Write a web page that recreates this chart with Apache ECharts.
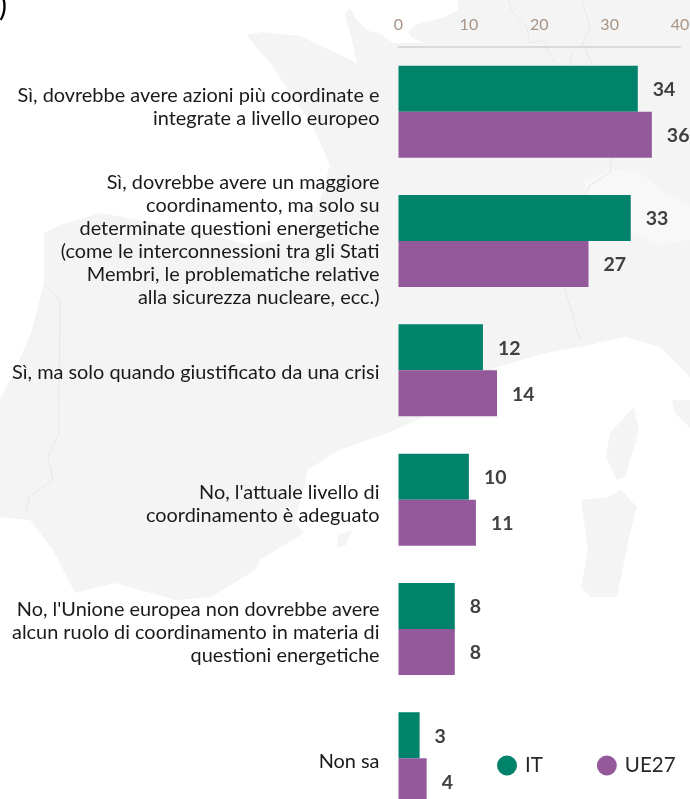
<!DOCTYPE html>
<html>
<head>
<meta charset="utf-8">
<title>Coordinamento energetico</title>
<script src="https://cdn.jsdelivr.net/npm/echarts@6/dist/echarts.min.js"></script>
<style>
html,body{margin:0;padding:0;background:#fff;}
#main{width:690px;height:799px;}
</style>
</head>
<body>
<div id="main"></div>
<script>
var categorie = [
	"Sì, dovrebbe avere azioni più coordinate e\nintegrate a livello europeo",
	"Sì, dovrebbe avere un maggiore\ncoordinamento, ma solo su\ndeterminate questioni energetiche\n(come le interconnessioni tra gli Stati\nMembri, le problematiche relative\nalla sicurezza nucleare, ecc.)",
	"Sì, ma solo quando giustificato da una crisi",
	"No, l'attuale livello di\ncoordinamento è adeguato",
	"No, l'Unione europea non dovrebbe avere\nalcun ruolo di coordinamento in materia di\nquestioni energetiche",
	"Non sa"
];
var valoriIT = [34, 33, 12, 10, 8, 3];
var valoriUE27 = [36, 27, 14, 11, 8, 4];
var tickAsse = [0, 10, 20, 30, 40];

var FONT = 'Lato, "Open Sans", sans-serif';
var GRIGIO_MAPPA = '#f4f4f4';
var LINEA_MAPPA = '#e8e8e8';

//le etichette non sono centrate sulle barre nell'originale:
//una riga vuota sopra o sotto (rich) le sposta di metà della sua altezza
var righeVuote = [
	{sotto:10},
	{sotto:2},
	{sopra:4},
	{sopra:8},
	{sopra:8},
	{sopra:6}
];
function testoEtichetta(nome, i){
	var r = righeVuote[i];
	var righe = [];
	$each(nome.split("\n"), function(t){ righe.push("{t|"+t+"}"); });
	if(r.sopra){ righe.unshift("{v"+r.sopra+"| }"); }
	if(r.sotto){ righe.push("{v"+r.sotto+"| }"); }
	return righe.join("\n");
}
function $each(arr, fn){
	for(var k=0;k<arr.length;k++){ fn(arr[k]); }
}
var stileRich = {t:{fontFamily:FONT, fontSize:19.9, lineHeight:23, color:'#1a1a1a'}};
$each([2,4,6,8,10], function(h){
	stileRich["v"+h] = {fontSize:1, lineHeight:h};
});

//sfondo: sagoma della mappa, solo decorazione
function poly(pts, fill){
	return {type:'polygon', silent:true, z:-10, shape:{points:pts}, style:{fill:fill}};
}
function bordo(pts){
	return {type:'polyline', silent:true, z:-9, shape:{points:pts}, style:{stroke:LINEA_MAPPA, lineWidth:1, fill:null}};
}
var mappa = [
	//Francia e Spagna
	poly([[458,0],[458,10],[445,17],[415,25],[408,32],[412,38],[424,43],[393,43],[380,33],[368,31],[357,20],[350,8],[345,14],[352,40],[357,63],[330,50],[300,36],[262,32],[247,35],[258,50],[268,60],[285,85],[312,125],[330,165],[320,200],[300,235],[250,245],[176,227],[101,213],[60,225],[44,233],[44,283],[31,333],[15,370],[0,400],[0,517],[30,520],[53,550],[75,593],[115,583],[176,600],[211,597],[255,570],[260,560],[304,533],[295,523],[308,470],[339,450],[388,433],[423,417],[460,385],[498,367],[546,353],[590,345],[625,337],[660,347],[690,377],[690,0]], GRIGIO_MAPPA),
	//Svizzera
	poly([[585,180],[612,170],[640,172],[660,190],[690,205],[690,240],[660,245],[640,235],[610,225],[585,205]], '#f8f8f8'),
	//Corsica
	poly([[634,407],[639,430],[625,477],[617,480],[606,457],[610,433]], GRIGIO_MAPPA),
	//Sardegna
	poly([[621,490],[637,507],[630,533],[617,597],[590,597],[581,587],[588,550],[581,500],[608,497]], GRIGIO_MAPPA),
	//Italia
	poly([[672,400],[674,412],[690,428],[690,400]], GRIGIO_MAPPA),
	//Baleari
	poly([[338,535],[352,530],[346,545],[337,548]], GRIGIO_MAPPA),
	bordo([[508,0],[513,13],[527,27],[530,43],[542,40],[555,63]]),
	bordo([[582,0],[590,27],[583,43],[572,53],[570,65]]),
	bordo([[583,43],[592,65]]),
	bordo([[612,157],[610,173],[590,185],[565,240],[565,290],[580,340]]),
	bordo([[59,400],[59,433],[48,457],[53,480],[29,497],[26,513]]),
	bordo([[44,283],[60,300],[59,400]]),
	{type:'text', silent:true, left:-1, top:-9, style:{text:')', font:'30px '+FONT, fill:'#000'}}
];

var etichettaValore = {show:true, position:'right', distance:15, offset:[0,1], fontFamily:FONT, fontSize:19.5, fontWeight:'bold', color:'#404040'};

var myChart = echarts.init(document.getElementById('main'));
var option = {
	backgroundColor:'#fff',
	animation:false,
	graphic:mappa,
	legend:{
		left:492,
		top:750,
		icon:'circle',
		itemWidth:20,
		itemHeight:20,
		itemGap:54,
		textStyle:{fontFamily:FONT, fontSize:20.5, color:'#262626', padding:[0,0,0,3]},
		data:['IT','UE27']
	},
	grid:{left:398.5, top:47, width:281.5, height:776, outerBoundsMode:'none'},
	xAxis:{
		type:'value',
		position:'top',
		min:tickAsse[0],
		max:tickAsse[tickAsse.length-1],
		interval:10,
		axisLine:{show:true, lineStyle:{color:'#d9d9d9', width:2}},
		axisTick:{show:false},
		splitLine:{show:false},
		axisLabel:{margin:14, fontFamily:FONT, fontSize:16, color:'#a89384'}
	},
	yAxis:{
		type:'category',
		inverse:true,
		data:categorie,
		axisLine:{show:false},
		axisTick:{show:false},
		axisLabel:{margin:19, align:'right', formatter:function(v,i){ return testoEtichetta(v,i); }, rich:stileRich}
	},
	series:[
		{
			name:'IT',
			type:'bar',
			data:valoriIT,
			barWidth:46,
			barGap:0,
			itemStyle:{color:'#00826b'},
			label:etichettaValore
		},
		{
			name:'UE27',
			type:'bar',
			data:valoriUE27,
			barWidth:46,
			barGap:0,
			itemStyle:{color:'#93599b'},
			label:etichettaValore
		}
	]
};
myChart.setOption(option);
</script>
</body>
</html>
